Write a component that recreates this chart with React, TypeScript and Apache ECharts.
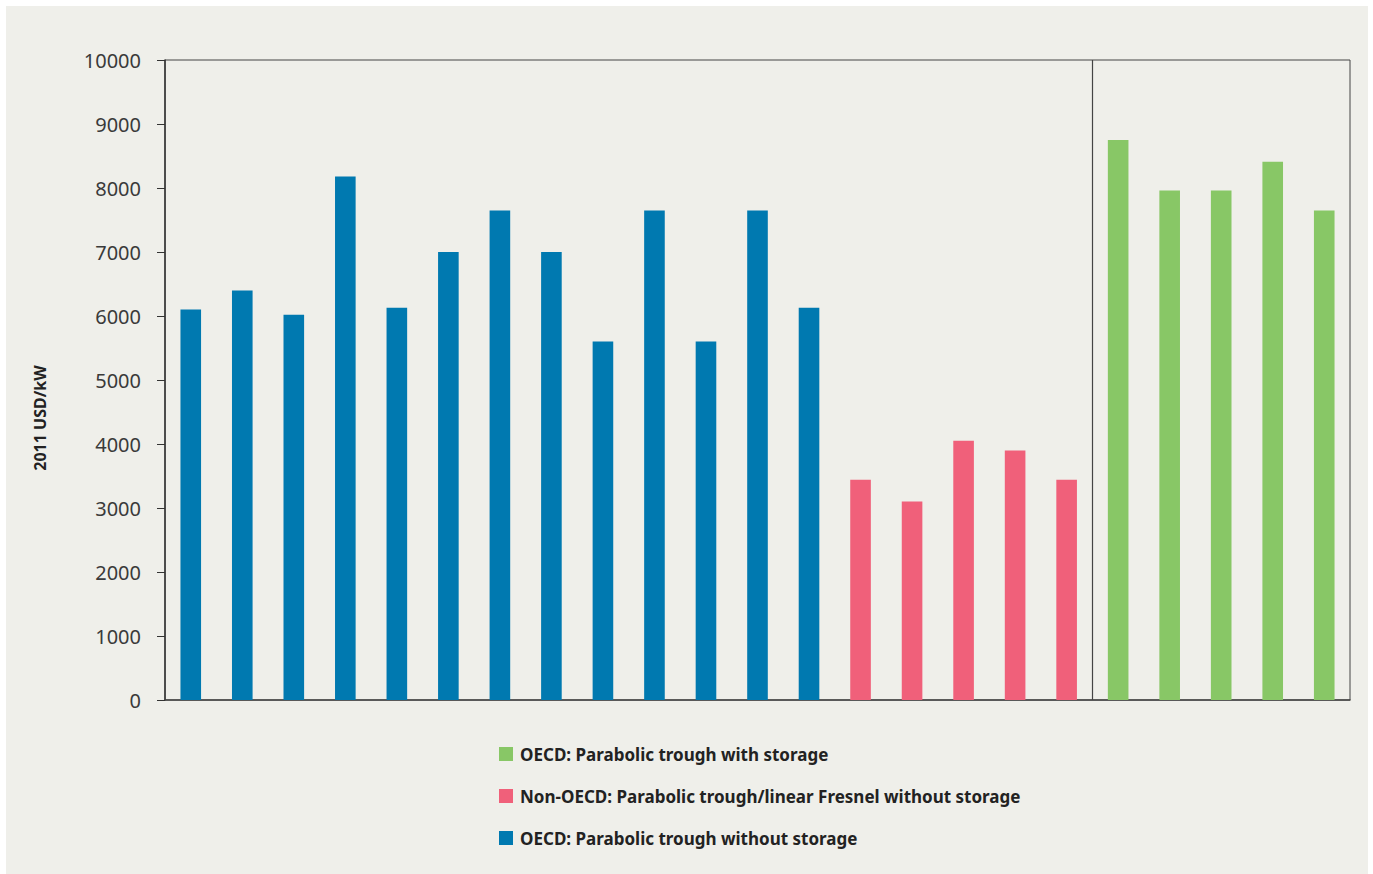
import React, { useEffect, useRef } from "react";
import * as echarts from "echarts";

const oecdNoStorage = [6100, 6400, 6020, 8180, 6130, 7000, 7650, 7000, 5600, 7650, 5600, 7650, 6130];
const nonOecd = [3440, 3100, 4050, 3900, 3440];
const oecdStorage = [8750, 7960, 7960, 8410, 7650];

const seriesNames = [
  "OECD: Parabolic trough with storage",
  "Non-OECD: Parabolic trough/linear Fresnel without storage",
  "OECD: Parabolic trough without storage",
];
const colors = ["#88c766", "#f0607a", "#0079b0"];
const yAxisTitle = "2011 USD/kW";
const yMin = 0;
const yMax = 10000;
const yInterval = 1000;

export default function App() {
  const ref = useRef<HTMLDivElement>(null);
  useEffect(() => {
    if (!ref.current) return;
    const chart = echarts.init(ref.current, null, { renderer: "svg" });
    const total = oecdNoStorage.length + nonOecd.length + oecdStorage.length;
    const categories = Array.from({ length: total }, (_, i) => String(i + 1));
    const pad = (arr: number[], start: number) =>
      categories.map((_, i) => (i >= start && i < start + arr.length ? arr[i - start] : "-"));
    const blueData = pad(oecdNoStorage, 0);
    const redData = pad(nonOecd, oecdNoStorage.length);
    const greenData = pad(oecdStorage, oecdNoStorage.length + nonOecd.length);
    const dividerIndex = oecdNoStorage.length + nonOecd.length;

    const barCommon = {
      type: "bar",
      stack: "all",
      barWidth: "40%",
    };

    chart.setOption({
      animation: false,
      backgroundColor: "#efefea",
      grid: {
        left: 159,
        top: 54,
        width: 1185,
        height: 640,
        show: true,
        borderColor: "#444",
        borderWidth: 1,
        backgroundColor: "transparent",
      },
      xAxis: [
        {
          type: "category",
          data: categories,
          axisLine: { lineStyle: { color: "#444", width: 1.5 } },
          axisTick: { show: false },
          axisLabel: { show: false },
          splitLine: { show: false },
        },
        {
          type: "value",
          min: 0,
          max: total,
          show: false,
          splitLine: { show: false },
        },
      ],
      yAxis: {
        type: "value",
        min: yMin,
        max: yMax,
        interval: yInterval,
        axisLine: { show: true, lineStyle: { color: "#333", width: 1.5 } },
        axisTick: { show: true, length: 8, lineStyle: { color: "#333" } },
        splitLine: { show: false },
        axisLabel: {
          margin: 24,
          fontFamily: "Noto Sans",
          fontSize: 20,
          color: "#3a3a3a",
          formatter: (v: number) => String(v),
        },
      },
      legend: {
        orient: "vertical",
        left: 488,
        top: 733,
        icon: "rect",
        itemWidth: 14,
        itemHeight: 14,
        itemGap: 22,
        data: seriesNames,
        textStyle: {
          fontFamily: "Noto Sans",
          fontWeight: "bold",
          fontSize: 17,
          lineHeight: 20,
          color: "#222",
          padding: [0, 0, 0, 2],
        },
      },
      graphic: [
        {
          type: "text",
          x: 34,
          y: 412,
          rotation: Math.PI / 2,
          style: {
            text: yAxisTitle,
            fontFamily: "Noto Sans",
            fontWeight: "bold",
            fontSize: 16,
            fill: "#222",
            align: "center",
            verticalAlign: "middle",
          },
        },
      ],
      series: [
        { ...barCommon, name: seriesNames[0], data: greenData, itemStyle: { color: colors[0] } },
        { ...barCommon, name: seriesNames[1], data: redData, itemStyle: { color: colors[1] } },
        { ...barCommon, name: seriesNames[2], data: blueData, itemStyle: { color: colors[2] } },
        {
          type: "line",
          name: "divider",
          xAxisIndex: 1,
          data: [],
          silent: true,
          markLine: {
            silent: true,
            symbol: "none",
            label: { show: false },
            lineStyle: { color: "#444", width: 1.2, type: "solid" },
            data: [{ xAxis: dividerIndex }],
          },
        },
      ],
    });
    return () => chart.dispose();
  }, []);
  return (
    <div style={{ position: "fixed", left: 0, top: 0, width: 1373, height: 874, background: "#ffffff" }}>
      <div ref={ref} style={{ position: "absolute", left: 6, top: 6, width: 1362, height: 868 }} />
    </div>
  );
}
